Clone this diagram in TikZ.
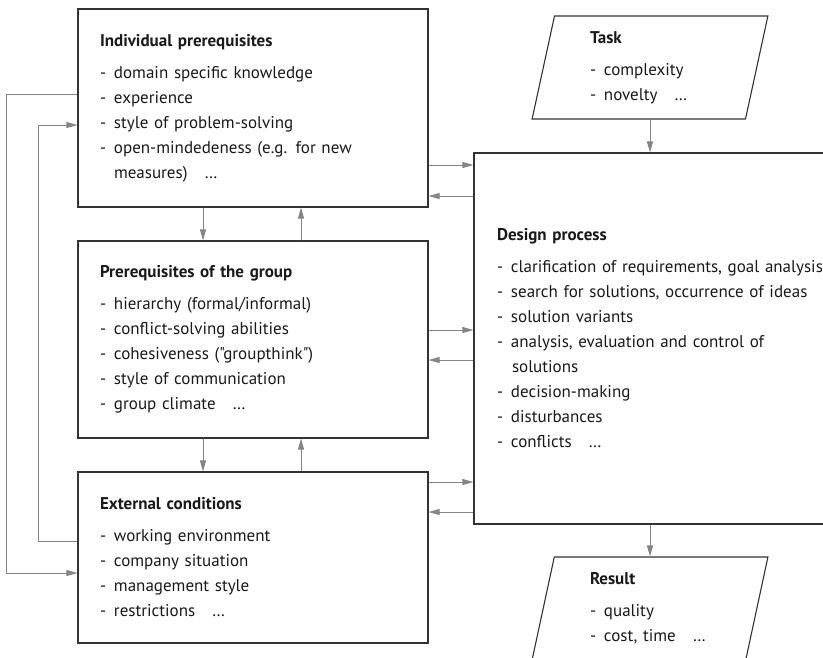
\documentclass[tikz,border=0pt]{standalone}
\usepackage{fontspec}
\setmainfont{PT Sans}[Ligatures=TeXOff]
\usepackage{xcolor}
\usetikzlibrary{arrows.meta,shapes.geometric}
\definecolor{boxc}{HTML}{333333}
\definecolor{arrc}{HTML}{858585}
\tikzset{
  bx/.style={draw=boxc,line width=1.1pt,rectangle,inner xsep=22pt,inner ysep=0pt,align=left,text=black!90,font=\fontsize{17}{25}\selectfont},
  pg/.style={draw=boxc,line width=1.1pt,trapezium,trapezium left angle=79,trapezium right angle=101,trapezium stretches=true,minimum width=236pt,minimum height=103pt,inner sep=0pt,text width=120pt,align=left,text=black!90,font=\fontsize{17}{25}\selectfont},
  ar/.style={draw=arrc,line width=0.9pt,-{Triangle[length=11pt,width=6pt]}},
  ra/.style={draw=arrc,line width=0.9pt,{Triangle[length=11pt,width=6pt]}-}
}
\newcommand{\dsh}{\makebox[14pt][l]{-}}
\newcommand{\hd}[1]{\textbf{#1}\\[7pt]}

\begin{document}
\begin{tikzpicture}[x=10pt,y=-10pt]
\useasboundingbox (0,0) rectangle (82.3,65.7);
\node[bx,text width=306pt,minimum width=350pt,minimum height=198pt] (ind) at (25.3,10.8) {\hd{Individual prerequisites}\dsh domain specific knowledge\\ \dsh experience\\ \dsh style of problem-solving\\ \dsh open-mindedeness (e.g. for new\\ \hspace*{14pt}measures)\quad …};
\node[bx,text width=306pt,minimum width=350pt,minimum height=197pt] (grp) at (25.3,33.95) {\hd{Prerequisites of the group}\dsh hierarchy (formal/informal)\\ \dsh conflict-solving abilities\\ \dsh cohesiveness ("groupthink")\\ \dsh style of communication\\ \dsh group climate\quad …};
\node[bx,text width=306pt,minimum width=350pt,minimum height=171pt] (ext) at (25.3,55.75) {\hd{External conditions}\dsh working environment\\ \dsh company situation\\ \dsh management style\\ \dsh restrictions\quad …};
\node[bx,inner xsep=23pt,text width=330pt,minimum width=376pt,minimum height=371pt] (des) at (66.2,33.85) {\hd{Design process}\dsh clarification of requirements, goal analysis\\ \dsh search for solutions, occurrence of ideas\\ \dsh solution variants\\ \dsh analysis, evaluation and control of\\ \hspace*{15pt}solutions\\ \dsh decision-making\\ \dsh disturbances\\ \dsh conflicts\quad …};
\node[pg] (task) at (65.0,6.75) {\hd{Task}\dsh complexity\\ \dsh novelty\quad …};
\node[pg] (res) at (65.0,60.85) {\hd{Result}\dsh quality\\ \dsh cost, time\quad …};

\draw[ar] ([xshift=-50pt]ind.south) coordinate (d1) -- (d1 |- grp.north);
\draw[ar] ([xshift=48pt]grp.north) coordinate (u1) -- (u1 |- ind.south);
\draw[ar] ([xshift=-50pt]grp.south) coordinate (d2) -- (d2 |- ext.north);
\draw[ar] ([xshift=48pt]ext.north) coordinate (u2) -- (u2 |- grp.south);

\draw[ar] ([yshift=-57pt]ind.east) coordinate (r1) -- (r1 -| des.west);
\draw[ra] ([yshift=-88pt]ind.east) coordinate (l1) -- (l1 -| des.west);
\draw[ar] ([yshift=9.5pt]grp.east) coordinate (r2) -- (r2 -| des.west);
\draw[ra] ([yshift=-20.5pt]grp.east) coordinate (l2) -- (l2 -| des.west);
\draw[ar] ([yshift=75.5pt]ext.east) coordinate (r3) -- (r3 -| des.west);
\draw[ra] ([yshift=45.5pt]ext.east) coordinate (l3) -- (l3 -| des.west);

\draw[ar] ([yshift=14pt]ind.west) -- ++(-7.1,0) |- ([yshift=-15.5pt]ext.west);
\draw[ar] ([yshift=16.5pt]ext.west) -- ++(-3.9,0) |- ([yshift=-17pt]ind.west);

\draw[ar] (task.center |- task.south) -- (task.center |- des.north);
\draw[ar] (res.center |- des.south) -- (res.center |- res.north);
\end{tikzpicture}
\end{document}
